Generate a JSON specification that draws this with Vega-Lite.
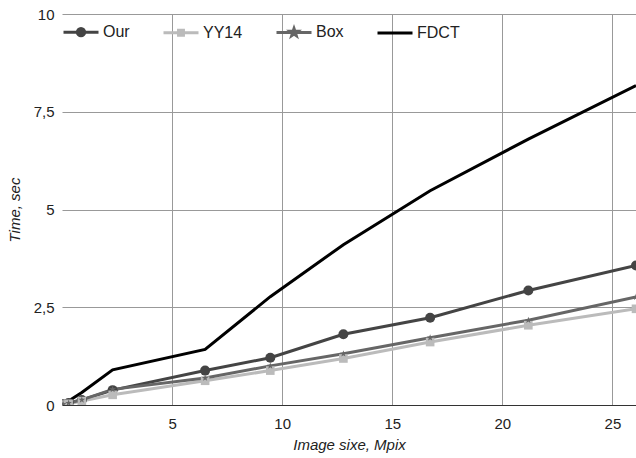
{
  "$schema": "https://vega.github.io/schema/vega-lite/v6.json",
  "width": 574,
  "height": 391,
  "autosize": {"type": "none"},
  "padding": {"left": 62, "top": 14, "right": 0, "bottom": 53},
  "background": "white",
  "config": {
    "view": {"stroke": null},
    "font": "Liberation Sans",
    "axis": {
      "labelFont": "Liberation Sans",
      "titleFont": "Liberation Sans",
      "labelFontSize": 15,
      "titleFontSize": 15,
      "labelColor": "#222",
      "titleColor": "#222",
      "titleFontStyle": "italic",
      "titleFontWeight": "normal",
      "gridColor": "#999",
      "gridOpacity": 1,
      "gridWidth": 1,
      "ticks": false,
      "tickSize": 0
    }
  },
  "data": {
    "values": [
      {"series": "Our", "x": 0.05, "y": 0.02},
      {"series": "Our", "x": 0.3, "y": 0.05},
      {"series": "Our", "x": 0.9, "y": 0.13},
      {"series": "Our", "x": 2.3, "y": 0.38},
      {"series": "Our", "x": 6.5, "y": 0.88},
      {"series": "Our", "x": 9.46, "y": 1.21},
      {"series": "Our", "x": 12.78, "y": 1.81},
      {"series": "Our", "x": 16.72, "y": 2.23},
      {"series": "Our", "x": 21.18, "y": 2.93},
      {"series": "Our", "x": 26.07, "y": 3.57},
      {"series": "YY14", "x": 0.05, "y": 0.01},
      {"series": "YY14", "x": 0.3, "y": 0.03},
      {"series": "YY14", "x": 0.9, "y": 0.1},
      {"series": "YY14", "x": 2.3, "y": 0.26},
      {"series": "YY14", "x": 6.5, "y": 0.62},
      {"series": "YY14", "x": 9.46, "y": 0.88},
      {"series": "YY14", "x": 12.78, "y": 1.19},
      {"series": "YY14", "x": 16.72, "y": 1.61},
      {"series": "YY14", "x": 21.18, "y": 2.04},
      {"series": "YY14", "x": 26.07, "y": 2.46},
      {"series": "Box", "x": 0.05, "y": 0.02},
      {"series": "Box", "x": 0.3, "y": 0.05},
      {"series": "Box", "x": 0.9, "y": 0.13},
      {"series": "Box", "x": 2.3, "y": 0.4},
      {"series": "Box", "x": 6.5, "y": 0.69},
      {"series": "Box", "x": 9.46, "y": 1.0},
      {"series": "Box", "x": 12.78, "y": 1.31},
      {"series": "Box", "x": 16.72, "y": 1.72},
      {"series": "Box", "x": 21.18, "y": 2.17},
      {"series": "Box", "x": 26.07, "y": 2.76},
      {"series": "FDCT", "x": 0.05, "y": 0.02},
      {"series": "FDCT", "x": 0.3, "y": 0.1},
      {"series": "FDCT", "x": 0.9, "y": 0.32},
      {"series": "FDCT", "x": 2.3, "y": 0.9},
      {"series": "FDCT", "x": 6.5, "y": 1.42},
      {"series": "FDCT", "x": 9.46, "y": 2.77},
      {"series": "FDCT", "x": 12.78, "y": 4.1},
      {"series": "FDCT", "x": 16.72, "y": 5.48},
      {"series": "FDCT", "x": 21.18, "y": 6.8},
      {"series": "FDCT", "x": 26.07, "y": 8.17}
    ]
  },
  "encoding": {
    "x": {
      "field": "x",
      "type": "quantitative",
      "scale": {"domain": [0, 26.07], "nice": false, "zero": false},
      "axis": {
        "title": "Image sixe, Mpix",
        "values": [5, 10, 15, 20, 25],
        "domainColor": "#333",
        "domainWidth": 1,
        "labelPadding": 11,
        "titlePadding": 6
      }
    },
    "y": {
      "field": "y",
      "type": "quantitative",
      "scale": {"domain": [0, 10], "nice": false},
      "axis": {
        "title": "Time, sec",
        "values": [0, 2.5, 5, 7.5, 10],
        "labelExpr": "replace(toString(datum.value), '.', ',')",
        "domain": false,
        "labelPadding": 8,
        "titlePadding": 11
      }
    }
  },
  "layer": [
    {
      "mark": {"type": "line", "strokeWidth": 3, "clip": true},
      "encoding": {
        "order": {"field": "x"},
        "color": {
          "field": "series",
          "type": "nominal",
          "scale": {
            "domain": ["Our", "YY14", "Box", "FDCT"],
            "range": ["#444444", "#bbbbbb", "#666666", "#000000"]
          },
          "legend": {
            "title": null,
            "orient": "none",
            "legendX": 0,
            "legendY": -1,
            "direction": "horizontal",
            "labelFont": "Liberation Sans",
            "labelFontSize": 16,
            "labelColor": "#222",
            "symbolSize": 1225,
            "symbolStrokeWidth": 3,
            "labelOffset": 3,
            "columnPadding": 27,
            "padding": 0,
            "encode": {
              "symbols": {
                "update": {
                  "shape": [
                    {"test": "datum.value === 'Our'", "value": "M-1,0H1M-0.21,0A0.21,0.21,0,1,0,0.21,0A0.21,0.21,0,1,0,-0.21,0Z"},
                    {"test": "datum.value === 'YY14'", "value": "M-1,0H1M-0.14,-0.14H0.14V0.14H-0.14Z"},
                    {"test": "datum.value === 'Box'", "value": "M-1,0H1M0,-0.22L0.052,-0.071L0.209,-0.068L0.084,0.027L0.129,0.178L0,0.088L-0.129,0.178L-0.084,0.027L-0.209,-0.068L-0.052,-0.071Z"},
                    {"value": "M-1,0H1"}
                  ],
                  "fill": [
                    {"test": "datum.value === 'Our'", "value": "#444444"},
                    {"test": "datum.value === 'YY14'", "value": "#bbbbbb"},
                    {"test": "datum.value === 'Box'", "value": "#666666"},
                    {"value": "transparent"}
                  ]
                }
              }
            }
          }
        }
      }
    },
    {
      "transform": [{"filter": "datum.series !== 'FDCT'"}],
      "mark": {"type": "point", "filled": true, "opacity": 1, "clip": true},
      "encoding": {
        "color": {"field": "series", "type": "nominal", "legend": null},
        "shape": {
          "field": "series",
          "type": "nominal",
          "scale": {
            "domain": ["Our", "YY14", "Box"],
            "range": ["circle", "square", "M0,-1L0.235,-0.324L0.951,-0.309L0.38,0.124L0.588,0.809L0,0.4L-0.588,0.809L-0.38,0.124L-0.951,-0.309L-0.235,-0.324Z"]
          },
          "legend": null
        },
        "size": {
          "field": "series",
          "type": "nominal",
          "scale": {"domain": ["Our", "YY14", "Box"], "range": [100, 49, 160]},
          "legend": null
        }
      }
    }
  ]
}
